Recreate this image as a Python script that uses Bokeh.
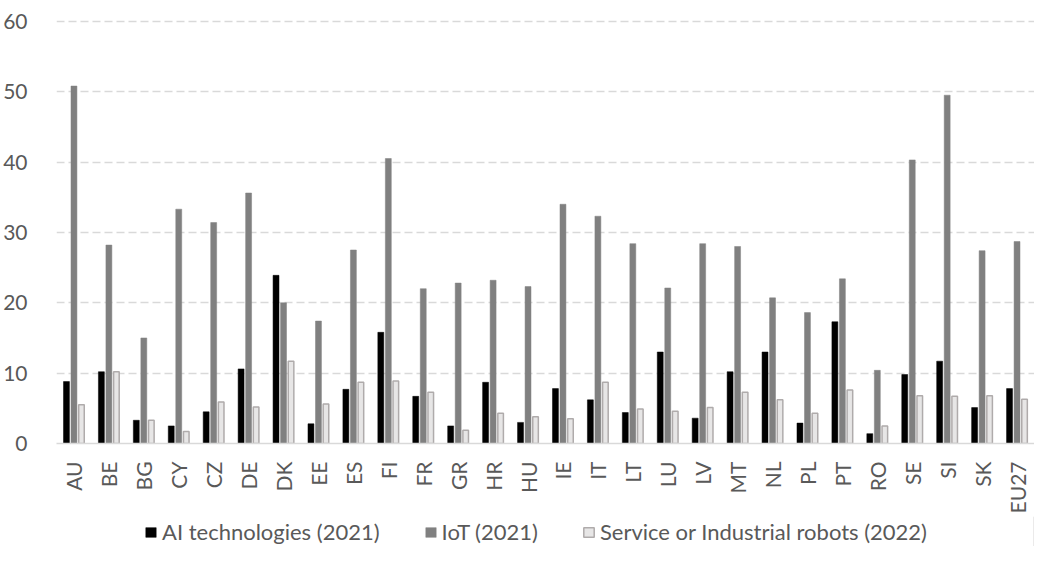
import math
from bokeh.plotting import figure
from bokeh.layouts import column
from bokeh.models import (FactorRange, Range1d, FixedTicker, Legend, LegendItem,
                          ColumnDataSource)
from bokeh.transform import dodge
from bokeh.embed import file_html
from bokeh.resources import INLINE

countries = ["AU", "BE", "BG", "CY", "CZ", "DE", "DK", "EE", "ES", "FI", "FR", "GR",
             "HR", "HU", "IE", "IT", "LT", "LU", "LV", "MT", "NL", "PL", "PT", "RO",
             "SE", "SI", "SK", "EU27"]
ai_tech = [8.8, 10.2, 3.3, 2.5, 4.5, 10.6, 23.9, 2.8, 7.7, 15.8, 6.7, 2.5,
           8.7, 3.0, 7.8, 6.2, 4.4, 13.0, 3.6, 10.2, 13.0, 2.9, 17.3, 1.4,
           9.8, 11.7, 5.1, 7.8]
iot = [50.8, 28.2, 15.0, 33.3, 31.4, 35.6, 20.0, 17.4, 27.5, 40.5, 22.0, 22.8,
       23.2, 22.3, 34.0, 32.3, 28.4, 22.1, 28.4, 28.0, 20.7, 18.6, 23.4, 10.4,
       40.3, 49.5, 27.4, 28.7]
robots = [5.5, 10.2, 3.3, 1.7, 5.9, 5.2, 11.7, 5.6, 8.7, 8.9, 7.3, 1.9,
          4.3, 3.8, 3.5, 8.7, 4.9, 4.6, 5.1, 7.3, 6.2, 4.3, 7.6, 2.5,
          6.8, 6.7, 6.8, 6.3]
y_ticks = [0, 10, 20, 30, 40, 50, 60]
series_labels = ["AI technologies (2021)", "IoT (2021)", "Service or Industrial robots (2022)"]

FONT = "Lato"
TXT = "#595959"
STYLES = [dict(fill_color="#000000", line_color="#000000", line_width=0.5),
          dict(fill_color="#808080", line_color="#808080", line_width=0.5),
          dict(fill_color="#e7e6e6", line_color="#afabab", line_width=1.5)]

src = ColumnDataSource(dict(c=countries, ai=ai_tech, iot=iot, rob=robots))

p = figure(x_range=FactorRange(factors=countries, range_padding=0),
           y_range=Range1d(0, 60.4), width=1034, height=516,
           output_backend="svg", toolbar_location=None,
           min_border_left=50, min_border_right=0, min_border_top=18,
           min_border_bottom=73)

p.vbar(x=dodge("c", -0.215, range=p.x_range), top="ai", width=0.17, source=src, **STYLES[0])
p.vbar(x=dodge("c", 0.0, range=p.x_range), top="iot", width=0.17, source=src, **STYLES[1])
p.vbar(x=dodge("c", 0.215, range=p.x_range), top="rob", width=0.16, source=src, **STYLES[2])

p.outline_line_color = None
p.xgrid.visible = False
p.ygrid.ticker = FixedTicker(ticks=y_ticks[1:])
p.ygrid.grid_line_color = "#d9d9d9"
p.ygrid.grid_line_width = 1.5
p.ygrid.grid_line_dash = "8 4"

p.yaxis.ticker = FixedTicker(ticks=y_ticks)
p.yaxis.axis_line_color = None
p.yaxis.major_tick_line_color = None
p.yaxis.minor_tick_line_color = None
p.yaxis.major_label_standoff = 23
p.yaxis.major_label_text_font = FONT
p.yaxis.major_label_text_font_size = "21px"
p.yaxis.major_label_text_color = TXT

p.xaxis.axis_line_color = "#d9d9d9"
p.xaxis.axis_line_width = 1.5
p.xaxis.major_tick_line_color = None
p.xaxis.minor_tick_line_color = None
p.xaxis.major_label_orientation = math.pi / 2
p.xaxis.major_label_standoff = 12
p.xaxis.major_label_text_font = FONT
p.xaxis.major_label_text_font_size = "21px"
p.xaxis.major_label_text_color = TXT

# legend strip below the chart (its frame is aligned with the chart frame)
p2 = figure(x_range=Range1d(0, 1), y_range=Range1d(0, 1), width=1034, height=30,
            output_backend="svg", toolbar_location=None,
            x_axis_type=None, y_axis_type=None,
            min_border_left=0, min_border_right=0, min_border_top=0, min_border_bottom=0)
p2.outline_line_color = None
p2.xgrid.visible = False
p2.ygrid.visible = False
dummies = [p2.vbar(x=[5], top=[5], width=0.1, **st) for st in STYLES]

legend = Legend(items=[LegendItem(label=lab, renderers=[r]) for lab, r in zip(series_labels, dummies)],
                location=(88, 1), orientation="horizontal")
legend.background_fill_alpha = 0
legend.border_line_color = None
legend.padding = 0
legend.margin = 0
legend.spacing = 44
legend.label_standoff = 5
legend.glyph_width = 13
legend.glyph_height = 12
legend.label_text_font = FONT
legend.label_text_font_size = "22px"
legend.label_text_color = TXT
legend.label_height = 20
p2.add_layout(legend)

layout = column(p, p2, spacing=0)
open("out.html", "w").write(file_html(layout, INLINE))
